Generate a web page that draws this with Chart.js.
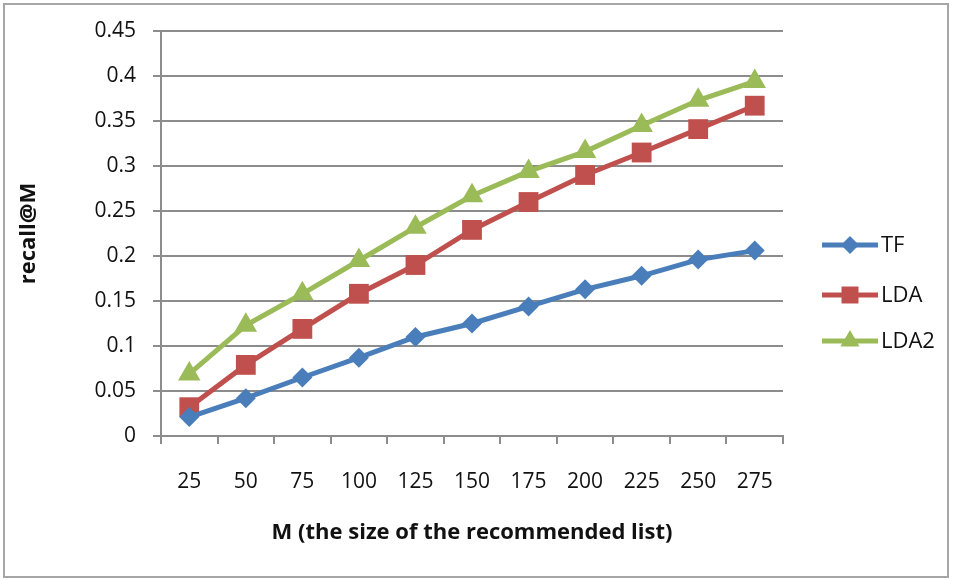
<!DOCTYPE html>
<html>
<head>
<meta charset="utf-8">
<script src="https://cdn.jsdelivr.net/npm/chart.js@4"></script>
<style>
  body { margin: 0; background: #fff; }
  #wrap { position: relative; width: 953px; height: 580px; }
  #frame { position: absolute; left: 3px; top: 3px; width: 942px; height: 571px;
           border: 2px solid #a6a6a6; pointer-events: none; }
  canvas { position: absolute; left: 0; top: 0; }
</style>
</head>
<body>
<div id="wrap">
  <canvas id="recallChart" width="953" height="580"></canvas>
  <div id="frame"></div>
</div>
<script>
const categories = ['25', '50', '75', '100', '125', '150', '175', '200', '225', '250', '275'];
const tfValues   = [0.021, 0.042, 0.065, 0.087, 0.110, 0.125, 0.144, 0.163, 0.178, 0.196, 0.206];
const ldaValues  = [0.032, 0.079, 0.119, 0.158, 0.190, 0.229, 0.260, 0.290, 0.315, 0.341, 0.367];
const lda2Values = [0.069, 0.123, 0.158, 0.195, 0.232, 0.267, 0.294, 0.316, 0.345, 0.373, 0.394];
const yTickLabels = ['0', '0.05', '0.1', '0.15', '0.2', '0.25', '0.3', '0.35', '0.4', '0.45'];

const gridColor = '#8c8c8c';
const fontFamily = "'Open Sans', 'DejaVu Sans', sans-serif";

// legend drawn as line + marker, like the spreadsheet one
const sideLegend = {
  id: 'sideLegend',
  afterDraw(chart) {
    const ctx = chart.ctx;
    const rows = [245, 295, 341];
    ctx.save();
    chart.data.datasets.forEach((ds, i) => {
      const y = rows[i];
      ctx.strokeStyle = ds.borderColor;
      ctx.lineWidth = 5;
      ctx.beginPath();
      ctx.moveTo(822, y);
      ctx.lineTo(878, y);
      ctx.stroke();
      ctx.fillStyle = ds.backgroundColor;
      Chart.helpers.drawPoint(ctx, {
        pointStyle: ds.pointStyle,
        radius: ds.legendRadius,
        borderWidth: 0
      }, 850, y);
      ctx.fillStyle = '#111';
      ctx.font = '22px ' + fontFamily;
      ctx.textBaseline = 'middle';
      ctx.textAlign = 'left';
      ctx.fillText(ds.label, 881, y + 1);
    });
    ctx.restore();
  }
};

const ctx = document.getElementById('recallChart').getContext('2d');

new Chart(ctx, {
  type: 'line',
  data: {
    labels: categories,
    datasets: [
      {
        label: 'TF',
        data: tfValues,
        borderColor: '#4a7ebb',
        backgroundColor: '#4a7ebb',
        borderWidth: 5,
        pointStyle: 'rectRot',
        pointRadius: 10,
        legendRadius: 9,
        pointBorderWidth: 0
      },
      {
        label: 'LDA',
        data: ldaValues,
        borderColor: '#c0504d',
        backgroundColor: '#c0504d',
        borderWidth: 5,
        pointStyle: 'rect',
        pointRadius: 14,
        legendRadius: 12,
        pointBorderWidth: 0
      },
      {
        label: 'LDA2',
        data: lda2Values,
        borderColor: '#9bbb59',
        backgroundColor: '#9bbb59',
        borderWidth: 5,
        pointStyle: 'triangle',
        pointRadius: 13,
        legendRadius: 11,
        pointBorderWidth: 0
      }
    ]
  },
  options: {
    responsive: false,
    animation: false,
    layout: {
      padding: { left: 0, right: 170, top: 31, bottom: 0 }
    },
    plugins: {
      legend: { display: false },
      tooltip: { enabled: false }
    },
    scales: {
      x: {
        offset: true,
        grid: {
          offset: true,
          drawOnChartArea: false,
          drawTicks: true,
          tickLength: 8,
          color: gridColor,
          lineWidth: 2
        },
        border: { color: gridColor, width: 2 },
        ticks: {
          color: '#111',
          padding: 25,
          maxRotation: 0,
          font: { family: fontFamily, size: 21 }
        },
        title: {
          display: true,
          text: 'M (the size of the recommended list)',
          color: '#111',
          font: { family: fontFamily, size: 22, weight: 'bold' },
          padding: { top: 0, bottom: 34 }
        },
        afterFit(scale) { scale.height = 144; }
      },
      y: {
        min: 0,
        max: 0.45,
        grid: {
          color: gridColor,
          lineWidth: 2,
          tickLength: 8
        },
        border: { color: gridColor, width: 2 },
        ticks: {
          stepSize: 0.05,
          color: '#111',
          padding: 17,
          font: { family: fontFamily, size: 21 },
          callback: (v, i) => yTickLabels[i]
        },
        title: {
          display: true,
          text: 'recall@M',
          color: '#111',
          font: { family: fontFamily, size: 22, weight: 'bold' },
          padding: { top: 16, bottom: 0 }
        },
        afterFit(scale) { scale.width = 161; }
      }
    }
  },
  plugins: [sideLegend]
});
</script>
</body>
</html>
